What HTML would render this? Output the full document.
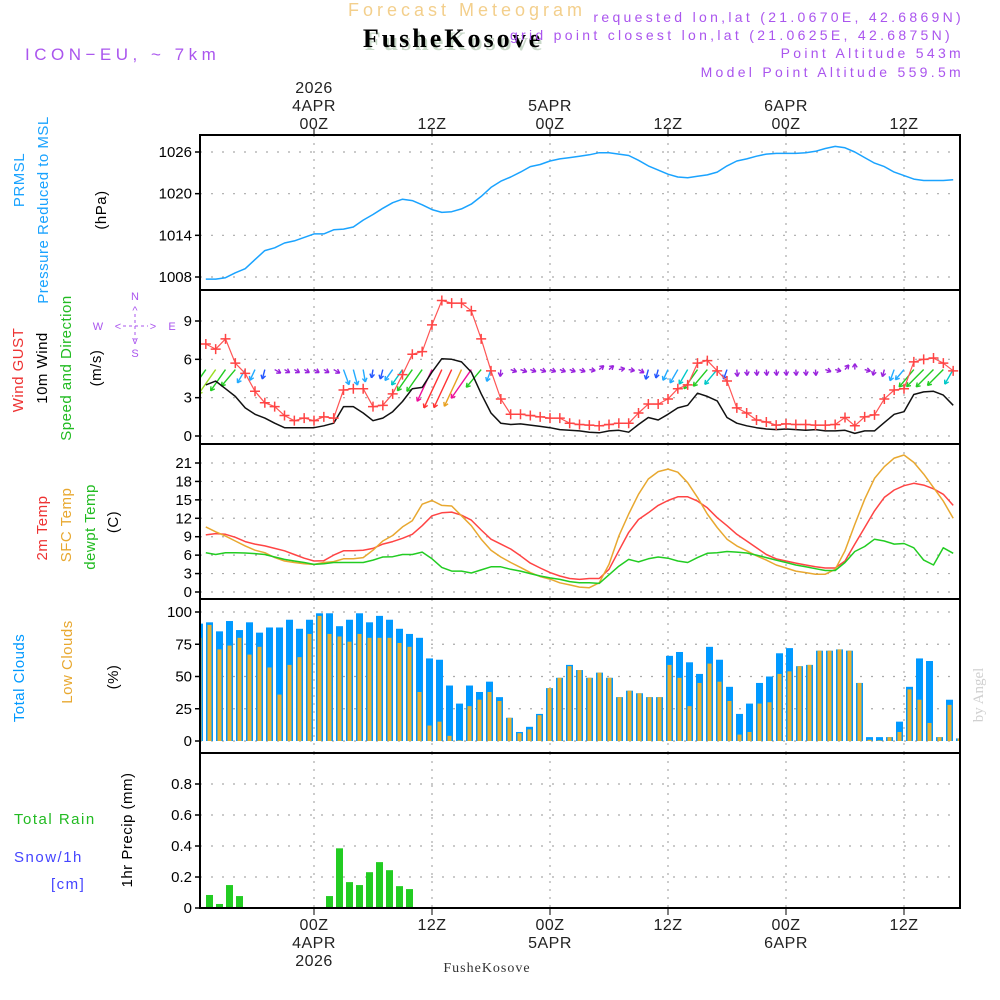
<!DOCTYPE html>
<html><head><meta charset="utf-8"><style>
html,body{margin:0;padding:0;background:#fff;}
svg{display:block;font-family:"Liberation Sans",sans-serif;}
</style></head><body>
<svg id="chart" width="1000" height="1000" viewBox="0 0 1000 1000" xmlns="http://www.w3.org/2000/svg">
<rect width="1000" height="1000" fill="#fff"/>
<text x="467" y="16" text-anchor="middle" font-size="18" letter-spacing="4" fill="#f3cf8c">Forecast Meteogram</text>
<text x="455" y="50" text-anchor="middle" font-family="Liberation Serif,serif" font-weight="bold" font-size="26" letter-spacing="3" fill="#c8d8c8">FusheKosove</text>
<text x="453" y="47" text-anchor="middle" font-family="Liberation Serif,serif" font-weight="bold" font-size="26" letter-spacing="3" fill="#000">FusheKosove</text>
<text x="25" y="60" font-size="17" letter-spacing="4.5" fill="#aa55ee">ICON−EU, ~ 7km</text>
<g font-size="14" letter-spacing="3.3" fill="#aa55ee" text-anchor="end">
<text x="964" y="22">requested lon,lat (21.0670E, 42.6869N)</text>
<text x="953" y="40">grid point closest lon,lat (21.0625E, 42.6875N)</text>
<text x="964" y="58">Point Altitude 543m</text>
<text x="964" y="77">Model Point Altitude 559.5m</text>
</g>
<g id="plots"></g>
<g font-size="15" letter-spacing="0.5">
<text transform="translate(24,180) rotate(-90)" text-anchor="middle" fill="#1aa3ff">PRMSL</text>
<text transform="translate(48,210) rotate(-90)" text-anchor="middle" fill="#1aa3ff">Pressure Reduced to MSL</text>
<text transform="translate(106,210) rotate(-90)" text-anchor="middle" fill="#000">(hPa)</text>
<text transform="translate(23,370) rotate(-90)" text-anchor="middle" fill="#ee3333">Wind GUST</text>
<text transform="translate(47,368) rotate(-90)" text-anchor="middle" fill="#000">10m Wind</text>
<text transform="translate(71,368) rotate(-90)" text-anchor="middle" fill="#22bb22">Speed and Direction</text>
<text transform="translate(101,368) rotate(-90)" text-anchor="middle" fill="#000">(m/s)</text>
<text transform="translate(47,528) rotate(-90)" text-anchor="middle" fill="#ee3333">2m Temp</text>
<text transform="translate(71,525) rotate(-90)" text-anchor="middle" fill="#e8a830">SFC Temp</text>
<text transform="translate(95,527) rotate(-90)" text-anchor="middle" fill="#22bb22">dewpt Temp</text>
<text transform="translate(118,522) rotate(-90)" text-anchor="middle" fill="#000">(C)</text>
<text transform="translate(24,678) rotate(-90)" text-anchor="middle" fill="#0099ff">Total Clouds</text>
<text transform="translate(72,662) rotate(-90)" text-anchor="middle" fill="#e8a830">Low Clouds</text>
<text transform="translate(118,677) rotate(-90)" text-anchor="middle" fill="#000">(%)</text>
<text x="14" y="824" letter-spacing="1.5" fill="#22bb22">Total  Rain</text>
<text x="14" y="862" letter-spacing="1.5" fill="#4444ff">Snow/1h</text>
<text x="51" y="889" letter-spacing="1.5" fill="#4444ff">[cm]</text>
<text transform="translate(132,830) rotate(-90)" text-anchor="middle" fill="#000">1hr Precip (mm)</text>
</g>
<g font-size="11" fill="#aa55ee" stroke="none">
<text x="135" y="300" text-anchor="middle">N</text>
<text x="135" y="357" text-anchor="middle">S</text>
<text x="98" y="330" text-anchor="middle">W</text>
<text x="172" y="330" text-anchor="middle">E</text>
<text x="135" y="314" text-anchor="middle">^</text>
<text x="135" y="344" text-anchor="middle">v</text>
<text x="118" y="330" text-anchor="middle">&lt;</text>
<text x="153" y="330" text-anchor="middle">&gt;</text>
<line x1="123" y1="326" x2="148" y2="326" stroke="#aa55ee" stroke-dasharray="3,3"/>
<line x1="135" y1="314" x2="135" y2="340" stroke="#aa55ee" stroke-dasharray="3,3"/>
</g>
<text transform="translate(983,695) rotate(-90)" text-anchor="middle" font-family="Liberation Serif,serif" font-size="15" fill="#d0d0d0">by Angel</text>
<text x="487" y="972" text-anchor="middle" font-family="Liberation Serif,serif" font-size="14" letter-spacing="1" fill="#333">FusheKosove</text>
</svg>
<script>
const pressure=[1007.7,1007.7,1007.9,1008.6,1009.2,1010.5,1011.8,1012.2,1012.9,1013.2,1013.7,1014.2,1014.2,1014.8,1014.9,1015.2,1016.2,1017.0,1017.9,1018.7,1019.2,1019.0,1018.4,1017.7,1017.3,1017.4,1017.8,1018.5,1019.6,1020.9,1021.8,1022.4,1023.1,1023.9,1024.2,1024.7,1025.0,1025.2,1025.4,1025.6,1025.9,1025.9,1025.7,1025.5,1024.8,1024.0,1023.4,1022.8,1022.4,1022.3,1022.5,1022.7,1023.1,1024.0,1024.7,1025.0,1025.4,1025.7,1025.8,1025.8,1025.8,1025.9,1026.1,1026.5,1026.8,1026.6,1026.0,1025.2,1024.4,1023.9,1023.1,1022.6,1022.1,1021.9,1021.9,1021.9,1022.0];
const gust=[7.2,6.8,7.6,5.7,4.9,3.5,2.6,2.3,1.6,1.2,1.4,1.2,1.5,1.4,3.6,3.7,3.7,2.3,2.4,3.3,4.8,6.4,6.6,8.7,10.6,10.4,10.4,9.8,7.6,5.1,2.9,1.7,1.7,1.6,1.5,1.4,1.4,1.0,0.9,0.85,0.8,0.9,1.0,1.0,1.8,2.5,2.5,2.9,3.7,4.0,5.7,5.9,5.1,4.3,2.2,1.8,1.25,1.1,0.85,0.95,0.9,0.9,0.85,0.85,0.9,1.45,0.8,1.5,1.65,2.9,3.6,3.7,5.8,6.0,6.1,5.7,5.1];
const wind10=[4.0,4.3,3.7,3.1,2.2,1.7,1.4,1.0,0.65,0.65,0.65,0.65,0.8,1.0,2.3,2.3,1.8,1.2,1.4,1.9,2.7,3.7,3.8,5.0,6.05,6.0,5.8,5.0,3.3,1.8,1.0,0.9,0.95,0.85,0.75,0.65,0.5,0.45,0.4,0.3,0.25,0.4,0.45,0.3,0.9,1.45,1.25,1.7,2.2,2.4,3.35,3.1,2.75,1.45,1.0,0.8,0.65,0.55,0.5,0.55,0.5,0.45,0.5,0.4,0.4,0.45,0.2,0.4,0.4,1.05,1.7,1.9,3.25,3.45,3.5,3.2,2.4];
const windDir=[35,35,35,40,30,25,15,300,300,300,300,300,300,300,340,345,350,10,15,35,35,35,35,25,25,25,25,35,40,20,5,290,290,290,290,290,290,290,290,280,230,230,260,280,300,15,15,25,30,30,35,40,40,20,355,355,355,355,355,355,355,355,355,290,285,220,180,285,15,15,20,40,40,45,45,45,30];
const temp2m=[9.3,9.5,9.4,8.9,8.2,7.8,7.5,7.1,6.7,6.1,5.5,5.05,5.1,6.0,6.7,6.7,6.8,7.1,7.8,8.2,8.75,9.4,10.8,12.4,12.9,13.0,12.5,11.7,10.1,8.6,7.8,7.0,5.9,4.7,3.9,3.15,2.6,2.2,2.05,2.2,2.2,3.7,6.7,9.7,11.8,12.9,14.1,14.9,15.5,15.5,14.8,13.7,12.1,10.8,9.4,8.3,7.2,6.1,5.4,5.05,4.7,4.4,4.1,3.9,3.9,5.05,7.8,10.5,13.2,15.4,16.6,17.3,17.7,17.4,16.8,15.9,14.1];
const tempSfc=[10.6,9.8,9.1,8.3,7.5,6.8,6.4,5.6,5.05,4.8,4.6,4.5,4.8,4.95,5.4,5.4,5.6,6.8,8.3,9.2,10.6,11.6,14.3,14.9,14.1,14.0,12.4,10.8,8.6,6.8,5.7,4.8,4.0,3.15,2.5,2.1,1.5,1.15,0.8,0.7,1.5,4.5,9.1,12.7,15.9,18.4,19.6,20.0,19.5,17.8,15.4,12.7,10.5,8.6,7.5,6.7,5.9,5.2,4.4,3.9,3.4,3.15,2.9,2.9,3.7,6.7,11.0,15.1,18.5,20.4,21.8,22.3,21.1,19.2,17.0,14.8,12.0];
const dewpt=[6.4,6.1,6.4,6.4,6.35,6.25,6.1,5.7,5.3,5.05,4.8,4.5,4.6,4.8,4.8,4.8,4.8,5.2,5.7,5.75,6.1,6.1,6.5,5.4,4.0,3.4,3.4,3.1,3.6,4.1,4.1,3.7,3.4,3.0,2.6,2.3,2.05,1.7,1.5,1.5,1.4,2.8,4.2,5.3,4.9,5.4,5.7,5.5,5.05,4.8,5.6,6.3,6.4,6.6,6.5,6.35,6.0,5.6,5.2,4.8,4.4,4.1,3.8,3.5,3.5,4.8,6.6,7.4,8.6,8.3,7.8,7.9,7.2,5.2,4.4,7.2,6.3];
const totalClouds=[91,92,85,93,86,92,84,88,88,94,87,94,99,99,89,94,99,92,97,94,87,83,80,64,63,43,29,43,38,46,34,18,7,11,21,41,49,59,55,49,53,49,34,39,37,34,34,66,69,61,52,73,63,42,21,29,45,50,68,72,58,59,70,70,71,70,45,3,3,3,15,42,64,62,3,32,2];
const lowClouds=[80,90,71,74,80,67,73,57,36,59,65,83,97,83,81,77,83,80,80,80,76,73,38,12,15,4,0.5,27,32,38,31,18,6,9,20,41,49,58,55,49,53,49,34,39,37,34,34,59,49,27,45,60,46,31,5,7,29,30,52,54,58,59,70,70,71,70,45,1,0.5,3,7,40,32,14,3,28,2];
const precip=[0,0.084,0.026,0.148,0.077,0,0,0,0,0,0,0,0,0.077,0.385,0.167,0.148,0.231,0.296,0.244,0.141,0.122];
const pressTicks=[1008,1014,1020,1026];
const windTicks=[0,3,6,9];
const tempTicks=[0,3,6,9,12,15,18,21];
const cloudTicks=[0,25,50,75,100];
const precipTicks=[0,0.2,0.4,0.6,0.8];
const timeTicks=[0,12,24,36,48,60];
const topTimeLabels=[["2026","4APR","00Z"],["","","12Z"],["","5APR","00Z"],["","","12Z"],["","6APR","00Z"],["","","12Z"]];
const botTimeLabels=[["00Z","4APR","2026"],["12Z","",""],["00Z","5APR",""],["12Z","",""],["00Z","6APR",""],["12Z","",""]];

const NS='http://www.w3.org/2000/svg';
const root=document.getElementById('plots');
function el(tag,attrs,parent){const e=document.createElementNS(NS,tag);for(const k in attrs)e.setAttribute(k,attrs[k]);(parent||root).appendChild(e);return e;}
const L=200,R=960;
function X(h){return 314+h*118/12;}
function hourOf(i){return i-11;}
function xBar(i){return 199.5+10*i;}
function lin(d0,d1,p0,p1){return v=>p0+(v-d0)*(p1-p0)/(d1-d0);}
const yP=lin(1008,1026,277,152);
const yW=lin(0,9,436,321);
const yT=lin(0,21,592,463);
const yC=lin(0,100,741,612);
const yR=lin(0,0.8,908,784);
const panels=[[135,290,'pressure'],[290,444,'wind'],[444,599,'temperature'],[599,753,'clouds'],[753,908,'precip']];
const defs=el('defs',{});
const cp=el('clipPath',{id:'clip'},defs);
el('rect',{x:L,y:135,width:R-L,height:773},cp);

function panel(top,bot,name,ticks,yf,fmt){
  const g=el('g',{});
  
  
  timeTicks.forEach(h=>{const l=el('line',{x1:X(h),x2:X(h),y1:top,y2:bot,stroke:'#aaa','stroke-width':1.2,'stroke-dasharray':'2,6'},g);
    });
  ticks.forEach(t=>{const y=yf(t);
    const gl=el('line',{x1:L,x2:R,y1:y,y2:y,stroke:'#aaa','stroke-width':1.2,'stroke-dasharray':'2,9'},g);
    
    el('line',{x1:L-5,x2:L,y1:y,y2:y,stroke:'#000','stroke-width':1.5},g);
    const tx=el('text',{x:L-8,y:y+5,'text-anchor':'end','font-size':15,fill:'#000'},g);
    
    tx.textContent=fmt(t);});
  return g;
}
panel(135,290,'pressure',pressTicks,yP,t=>t);
panel(290,444,'wind',windTicks,yW,t=>t);
panel(444,599,'temperature',tempTicks,yT,t=>t);
panel(599,753,'clouds',cloudTicks,yC,t=>t);
panel(753,908,'precip',precipTicks,yR,t=>t===0?'0':t.toFixed(1));

const plot=el('g',{'clip-path':'url(#clip)'});
function line(arr,yf,color,name,w){
  const pts=arr.map((v,i)=>X(hourOf(i)).toFixed(1)+','+yf(v).toFixed(1)).join(' ');
  const p=el('polyline',{points:pts,fill:'none',stroke:color,'stroke-width':w||1.5,'stroke-linejoin':'round'},plot);
  
  
}
line(pressure,yP,'#1aa3ff','pressure-line');
totalClouds.forEach((v,i)=>{const r=el('rect',{x:xBar(i)-3.5,y:yC(v),width:7,height:yC(0)-yC(v),fill:'#0099ff'},plot);
  });
lowClouds.forEach((v,i)=>{const r=el('rect',{x:xBar(i)-2,y:yC(v),width:4,height:yC(0)-yC(v),fill:'#e8b030'},plot);
  });
precip.forEach((v,i)=>{if(v<=0)return;const r=el('rect',{x:xBar(i)-3.5,y:yR(v),width:7,height:yR(0)-yR(v),fill:'#22cc22'},plot);
  });
line(temp2m,yT,'#ff4444','temp-2m-line');
line(tempSfc,yT,'#e8a830','temp-sfc-line');
line(dewpt,yT,'#22cc22','dewpt-line');
function wcol(s){if(s<1.1)return '#9922dd';if(s<1.6)return '#2255ff';if(s<2.4)return '#22aaff';if(s<3.0)return '#00c8c8';if(s<4.2)return '#22cc22';if(s<4.8)return '#99dd22';if(s<5.5)return '#ee1199';if(s<5.9)return '#e8a020';return '#ff3333';}
const wy=yW(5.2);
wind10.forEach((s,i)=>{
  const to=(windDir[i]+180)*Math.PI/180;
  const len=Math.max(6,7*s);
  const x0=X(hourOf(i)),dx=Math.sin(to),dy=-Math.cos(to);
  const x1=x0+dx*len,y1=wy+dy*len,c=wcol(s);
  const g=el('g',{stroke:c,'stroke-width':1.4,fill:'none'},plot);
  
  
  el('line',{x1:x0,y1:wy,x2:x1,y2:y1},g);
  const a=Math.atan2(dy,dx);
  [a+2.6,a-2.6].forEach(b=>el('line',{x1:x1,y1:y1,x2:x1+4.5*Math.cos(b),y2:y1+4.5*Math.sin(b)},g));
});
line(wind10,yW,'#111','wind-speed-line');
line(gust,yW,'#ff5555','gust-line',1.2);
gust.forEach((v,i)=>{const x=X(hourOf(i)),y=yW(v);
  const p=el('path',{d:`M${x-5},${y}H${x+5}M${x},${y-5}V${y+5}`,stroke:'#ff4444','stroke-width':1.5},plot);
  });
panels.forEach(p=>{const r=el('rect',{x:L,y:p[0],width:R-L,height:p[1]-p[0],fill:'none',stroke:'#000','stroke-width':2});
  });
timeTicks.forEach((h,k)=>{
  el('line',{x1:X(h),x2:X(h),y1:129,y2:135,stroke:'#000','stroke-width':1});
  el('line',{x1:X(h),x2:X(h),y1:908,y2:915,stroke:'#000','stroke-width':1});
  topTimeLabels[k].forEach((s,j)=>{if(!s)return;const t=el('text',{x:X(h),y:93+j*18,'text-anchor':'middle','font-size':16,'letter-spacing':0.5,fill:'#222'});
    t.textContent=s;});
  botTimeLabels[k].forEach((s,j)=>{if(!s)return;const t=el('text',{x:X(h),y:930+j*18,'text-anchor':'middle','font-size':16,'letter-spacing':0.5,fill:'#222'});
    t.textContent=s;});
});
</script>
</body></html>
